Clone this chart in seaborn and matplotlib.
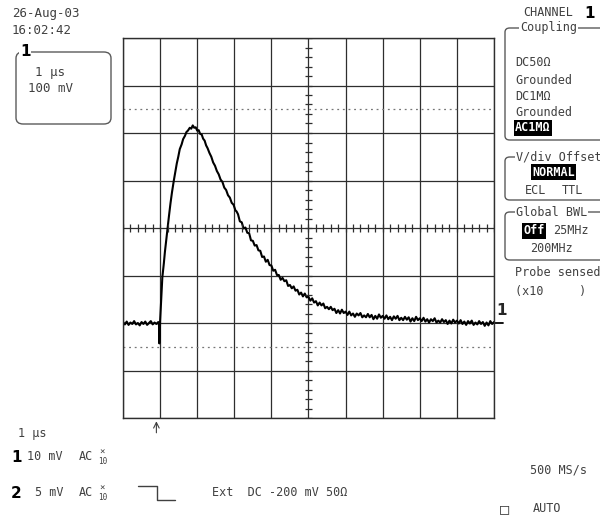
import numpy as np
import pandas as pd
import matplotlib.pyplot as plt
import seaborn as sns
from matplotlib.patches import FancyBboxPatch
from matplotlib.lines import Line2D

# trace: time in us (1 us/div), volts in mV (100 mV/div)
pre_t = [-1.00, -0.95, -0.90, -0.85, -0.80, -0.75, -0.70, -0.65, -0.60, -0.55,
         -0.50, -0.45, -0.40, -0.35, -0.30, -0.25, -0.20, -0.15, -0.10, -0.05,
         -0.03, -0.02, -0.01]
pre_mv = [-198, -203, -197, -204, -199, -202, -196, -203, -200, -205,
          -198, -202, -197, -204, -200, -196, -203, -199, -202, -198,
          -204, -243, -226]

rise_t = [0.00, 0.03, 0.06, 0.10, 0.13, 0.17, 0.20, 0.24, 0.28, 0.32, 0.37, 0.41,
          0.45, 0.49, 0.53, 0.58, 0.62, 0.67, 0.71, 0.75, 0.80, 0.84, 0.88, 0.92,
          0.96, 1.00, 1.04, 1.08, 1.12, 1.16, 1.20, 1.24, 1.28, 1.33, 1.38, 1.43,
          1.48, 1.53, 1.58, 1.63, 1.68, 1.73, 1.78, 1.83, 1.88, 1.93, 1.98, 2.03,
          2.06]
rise_mv = [-196, -150, -104, -75, -50, -22, 0, 26, 52, 75, 100, 118,
           136, 150, 166, 176, 187, 194, 202, 205, 211, 209, 216, 211,
           212, 205, 206, 198, 197, 188, 184, 174, 168, 158, 150, 138,
           131, 120, 113, 102, 97, 85, 80, 69, 64, 53, 49, 37,
           35]

tail_t = [2.10, 2.15, 2.20, 2.25, 2.30, 2.35, 2.40, 2.45, 2.50, 2.55,
          2.60, 2.65, 2.70, 2.75, 2.80, 2.85, 2.90, 2.95, 3.00, 3.05,
          3.10, 3.15, 3.20, 3.25, 3.30, 3.35, 3.40, 3.45, 3.50, 3.55,
          3.60, 3.65, 3.70, 3.75, 3.80, 3.85, 3.90, 3.95, 4.00, 4.05,
          4.10, 4.15, 4.20, 4.25, 4.30, 4.35, 4.40, 4.45, 4.50, 4.55,
          4.60, 4.65, 4.70, 4.75, 4.80, 4.85, 4.90, 4.95, 5.00, 5.05,
          5.10, 5.15, 5.20, 5.25, 5.30, 5.35, 5.40, 5.45, 5.50, 5.55,
          5.60, 5.65, 5.70, 5.75, 5.80, 5.85, 5.90, 5.95, 6.00, 6.05,
          6.10, 6.15, 6.20, 6.25, 6.30, 6.35, 6.40, 6.45, 6.50, 6.55,
          6.60, 6.65, 6.70, 6.75, 6.80, 6.85, 6.90, 6.95, 7.00, 7.05,
          7.10, 7.15, 7.20, 7.25, 7.30, 7.35, 7.40, 7.45, 7.50, 7.55,
          7.60, 7.65, 7.70, 7.75, 7.80, 7.85, 7.90, 7.95, 8.00, 8.05,
          8.10, 8.15, 8.20, 8.25, 8.30, 8.35, 8.40, 8.45, 8.50, 8.55,
          8.60, 8.65, 8.70, 8.75, 8.80, 8.85, 8.90, 8.95, 9.00]
tail_mv = [29, 14, 12, -1, 1, -10, -11, -26, -27, -37,
           -36, -47, -48, -61, -60, -71, -67, -78, -79, -90,
           -88, -99, -99, -109, -105, -112, -110, -122, -120, -127,
           -123, -132, -130, -140, -136, -144, -138, -146, -145, -153,
           -148, -157, -154, -163, -157, -163, -159, -169, -166, -171,
           -166, -173, -170, -179, -173, -180, -172, -179, -176, -183,
           -176, -184, -180, -187, -180, -184, -179, -188, -184, -188,
           -181, -188, -183, -192, -185, -191, -182, -189, -185, -191,
           -184, -192, -187, -194, -186, -191, -185, -194, -189, -194,
           -187, -193, -188, -197, -190, -196, -187, -194, -190, -196,
           -189, -197, -192, -199, -192, -196, -190, -199, -195, -199,
           -192, -198, -194, -202, -195, -201, -193, -199, -195, -201,
           -194, -202, -197, -204, -196, -201, -195, -204, -199, -203,
           -196, -202, -198, -206, -199, -205, -196, -202, -198]

df = pd.DataFrame({"t": pre_t + rise_t + tail_t,
                   "mv": pre_mv + rise_mv + tail_mv})

TXT = "#404040"
GRID = "#2e2e2e"
MONO = "DejaVu Sans Mono"

sns.set_style("white")
plt.rcParams["font.family"] = ["DejaVu Sans Mono", "DejaVu Sans"]

fig = plt.figure(figsize=(6, 5.21), dpi=100)
ax = fig.add_axes([123 / 600, 1 - 418 / 521, 371 / 600, 380 / 521])

sns.lineplot(data=df, x="t", y="mv", color="black", linewidth=1.5, ax=ax)

ax.set_xlim(-1, 9)
ax.set_ylim(-400, 400)
ax.set_xticks(range(-1, 10))
ax.set_yticks(range(-400, 401, 100))
ax.grid(True, color=GRID, lw=0.9)
ax.tick_params(length=0, labelbottom=False, labelleft=False)
ax.set_xlabel("")
ax.set_ylabel("")
for s in ax.spines.values():
    s.set_color(GRID)
    s.set_linewidth(1)

# graticule minor marks on the centre lines
ax.vlines(np.arange(-1, 9.01, 0.2), -9, 9, color=GRID, lw=0.9)
ax.hlines(np.arange(-400, 401, 20), 3.9, 4.1, color=GRID, lw=0.9)
ax.axhline(250, color="#777777", lw=0.9, ls=(0, (1.5, 3)))
ax.axhline(-250, color="#777777", lw=0.9, ls=(0, (1.5, 3)))

# ground marker for channel 1
ax.plot([9, 9.25], [-200, -200], color="black", lw=1.3, clip_on=False)
ax.text(9.05, -190, "1", fontsize=11, fontweight="bold", family="DejaVu Sans",
        ha="left", va="bottom", clip_on=False)
ax.annotate("", xy=(-0.1, -401), xytext=(-0.1, -437), annotation_clip=False,
            arrowprops=dict(arrowstyle="->", color=TXT, lw=0.8))


def label(x, y, s, size=8.5, **kw):
    kw.setdefault("color", TXT)
    kw.setdefault("family", MONO)
    fig.text(x / 600, 1 - y / 521, s, ha="left", va="center", fontsize=size, **kw)


def bold(x, y, s, size=11):
    label(x, y, s, size=size, color="black", fontweight="bold", family="DejaVu Sans")


def hl(x, y, s):
    label(x, y, s, color="white", fontweight="bold",
          bbox=dict(boxstyle="square,pad=0.12", fc="black", ec="none"))


def box(x0, y0, x1, y1, r=0.008):
    fig.add_artist(FancyBboxPatch((x0 / 600, 1 - y1 / 521), (x1 - x0) / 600, (y1 - y0) / 521,
                                  boxstyle=f"round,pad=0,rounding_size={r}",
                                  transform=fig.transFigure, fill=False,
                                  ec="#5a5a5a", lw=1))


def titled(x, y, s):
    label(x, y, s, bbox=dict(boxstyle="square,pad=0.1", fc="white", ec="none"))


# top left
label(12, 13, "26-Aug-03", size=9)
label(12, 31, "16:02:42", size=9)
box(16, 52, 111, 124, r=0.012)
label(20, 52, "1", size=11, color="black", fontweight="bold", family="DejaVu Sans",
      bbox=dict(boxstyle="square,pad=0.05", fc="white", ec="none"))
label(35, 72, "1 µs", size=9)
label(28, 88, "100 mV", size=9)

# right panel
label(523, 13, "CHANNEL", size=8.5)
bold(584, 13, "1")
box(505, 28, 640, 140)
titled(520, 28, "Coupling")
label(515, 62, "DC50Ω")
label(515, 80, "Grounded")
label(515, 96, "DC1MΩ")
label(515, 113, "Grounded")
hl(515, 128, "AC1MΩ")

box(505, 157, 640, 200)
titled(516, 157, "V/div Offset")
hl(532, 172, "NORMAL")
label(525, 191, "ECL")
label(562, 191, "TTL")

box(505, 212, 640, 260)
titled(516, 212, "Global BWL")
hl(523, 231, "Off")
label(553, 231, "25MHz")
label(530, 249, "200MHz")

label(515, 273, "Probe sensed")
label(515, 291, "(x10     )")

# bottom
label(18, 434, "1 µs")
bold(11, 457, "1")
label(27, 457, "10 mV")
label(79, 457, "AC")
label(99, 452, "×", size=6.5)
label(98, 462, "10", size=5.5)
bold(11, 493, "2")
label(35, 493, "5 mV")
label(79, 493, "AC")
label(99, 488, "×", size=6.5)
label(98, 498, "10", size=5.5)

fig.add_artist(Line2D(np.array([138, 157, 157, 175]) / 600,
                      1 - np.array([486, 486, 500, 500]) / 521,
                      transform=fig.transFigure, color=TXT, lw=1))
label(212, 493, "Ext  DC -200 mV 50Ω")
label(530, 470, "500 MS/s")
label(500, 509, "□", size=11)
label(533, 509, "AUTO")

fig.savefig("out.png", dpi=100)
